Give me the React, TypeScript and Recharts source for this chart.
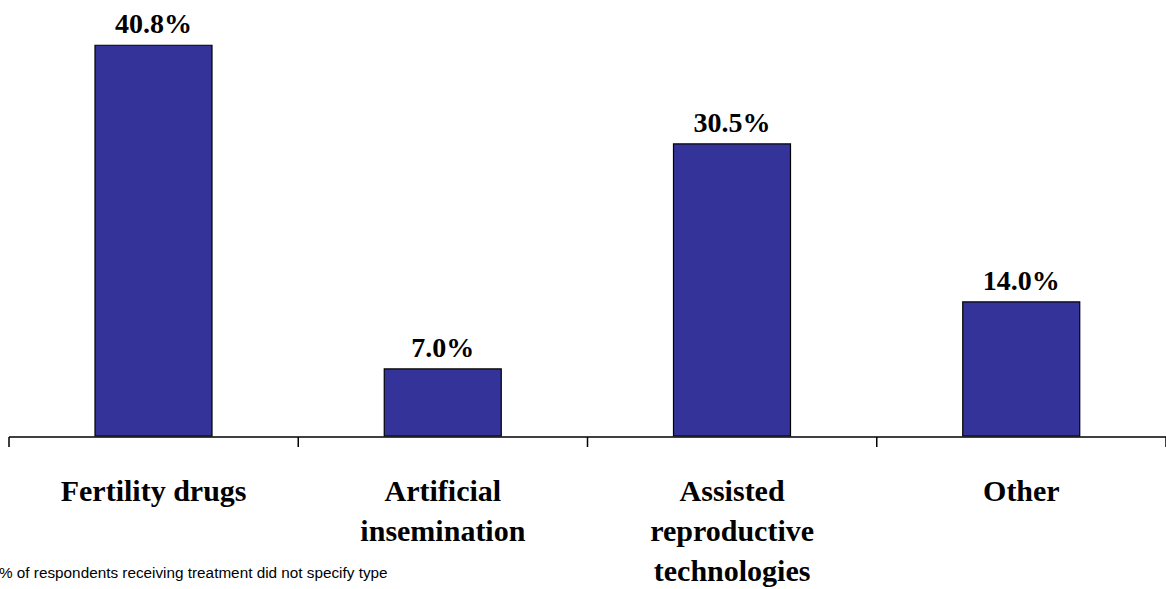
import React from 'react';
import { BarChart, Bar, XAxis, YAxis, LabelList } from 'recharts';

const categories = ['Fertility drugs', 'Artificial\ninsemination', 'Assisted\nreproductive\ntechnologies', 'Other'];
const shares = [40.8, 7.0, 30.5, 14.0];
const boundaryTicks = [0, 1, 2, 3, 4];
const footnote = '% of respondents receiving treatment did not specify type';

// slot = centre of each category on a 0..4 numeric scale, used only for the boundary tick axis
const chartData = categories.map((name, i) => ({ name, value: shares[i], slot: i + 0.5 }));

const CategoryTick = (props: any) => {
  const { x, y, payload } = props;
  const lines = String(payload.value).split('\n');
  return (
    <text
      x={x}
      y={y}
      textAnchor="middle"
      fontFamily="'Liberation Serif', 'Times New Roman', serif"
      fontWeight="bold"
      fontSize={30}
      fill="#000"
    >
      {lines.map((line, i) => (
        <tspan key={i} x={x} y={y + 57 + i * 40}>
          {line}
        </tspan>
      ))}
    </text>
  );
};

const EmptyTick = () => <g />;

const App: React.FC = () => {
  return (
    <div style={{ position: 'absolute', left: 0, top: 0, width: 1166, height: 589, background: '#fff' }}>
      <BarChart
        width={1166}
        height={589}
        data={chartData}
        margin={{ top: 5, right: 0, bottom: 151, left: 9 }}
        barSize={117}
      >
        <XAxis
          xAxisId="cat"
          dataKey="name"
          axisLine={false}
          tickLine={false}
          interval={0}
          tick={<CategoryTick />}
          height={1}
        />
        <XAxis
          xAxisId="edge"
          dataKey="slot"
          type="number"
          domain={[0, 4]}
          ticks={boundaryTicks}
          interval={0}
          tick={<EmptyTick />}
          tickSize={10}
          axisLine={{ stroke: '#000', strokeWidth: 1.5 }}
          tickLine={{ stroke: '#000', strokeWidth: 1.5 }}
          height={1}
        />
        <YAxis hide domain={[0, 45]} />
        <Bar
          xAxisId="cat"
          dataKey="value"
          fill="#333399"
          stroke="#000"
          strokeWidth={1.2}
          isAnimationActive={false}
        >
          <LabelList
            dataKey="value"
            position="top"
            offset={12}
            formatter={(v: any) => `${Number(v).toFixed(1)}%`}
            style={{
              fontFamily: "'Liberation Serif', 'Times New Roman', serif",
              fontWeight: 'bold',
              fontSize: 28,
              fill: '#000',
            }}
          />
        </Bar>
      </BarChart>
      <div
        style={{
          position: 'absolute',
          left: -1,
          top: 564,
          fontFamily: "'Liberation Sans', Arial, sans-serif",
          fontSize: 15.3,
          color: '#000',
          whiteSpace: 'nowrap',
        }}
      >
        {footnote}
      </div>
    </div>
  );
};

export default App;
